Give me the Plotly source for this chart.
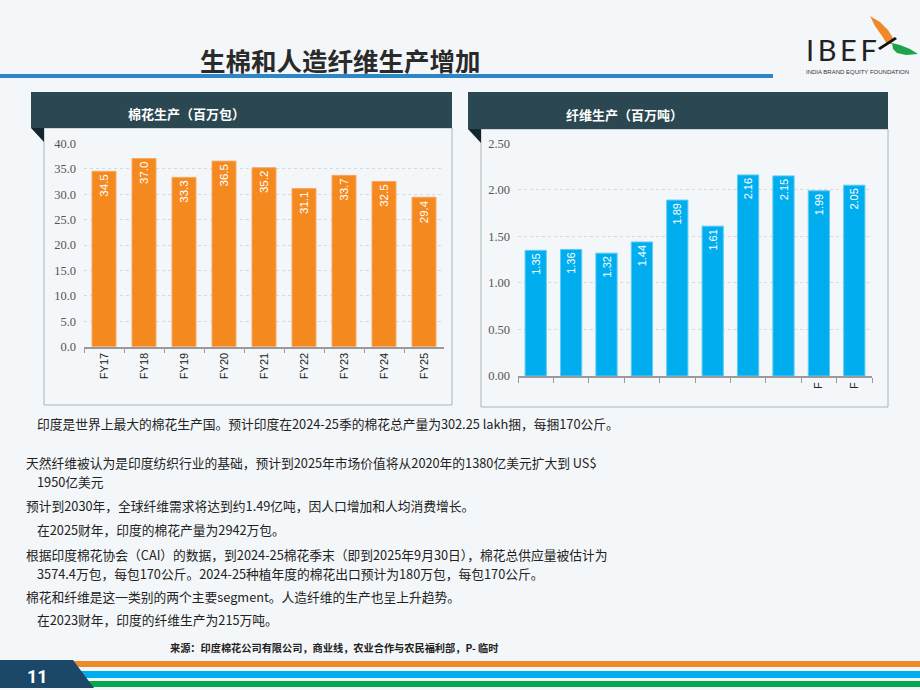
import plotly.graph_objects as go

# ---------------- data ----------------
cotton_years = ["FY17", "FY18", "FY19", "FY20", "FY21", "FY22", "FY23", "FY24", "FY25"]
cotton_values = [34.5, 37.0, 33.3, 36.5, 35.2, 31.1, 33.7, 32.5, 29.4]

fiber_years = ["FY16", "FY17", "FY18", "FY19", "FY20", "FY21", "FY22", "FY23", "FY24F", "FY25F"]
fiber_tick_labels = ["", "", "", "", "", "", "", "", "F", "F"]
fiber_values = [1.35, 1.36, 1.32, 1.44, 1.89, 1.61, 2.16, 2.15, 1.99, 2.05]

title_text = "生棉和人造纤维生产增加"
left_header = "棉花生产（百万包）"
right_header = "纤维生产（百万吨）"

body_lines = [
    (35, 423, "印度是世界上最大的棉花生产国。预计印度在2024-25季的棉花总产量为302.25 lakh捆，每捆170公斤。"),
    (24, 462.5, "天然纤维被认为是印度纺织行业的基础，预计到2025年市场价值将从2020年的1380亿美元扩大到 US$"),
    (35, 481.5, "1950亿美元"),
    (24, 506, "预计到2030年，全球纤维需求将达到约1.49亿吨，因人口增加和人均消费增长。"),
    (35, 529, "在2025财年，印度的棉花产量为2942万包。"),
    (24, 554, "根据印度棉花协会（CAI）的数据，到2024-25棉花季末（即到2025年9月30日），棉花总供应量被估计为"),
    (35, 573, "3574.4万包，每包170公斤。2024-25种植年度的棉花出口预计为180万包，每包170公斤。"),
    (24, 596, "棉花和纤维是这一类别的两个主要segment。人造纤维的生产也呈上升趋势。"),
    (35, 619, "在2023财年，印度的纤维生产为215万吨。"),
]
source_text = "来源：印度棉花公司有限公司，商业线，农业合作与农民福利部，P- 临时"
page_number = "11"

# ---------------- helpers ----------------
W, H = 920, 690
BG = "#F4F7F9"
CJK = "Noto Sans CJK SC"


def px(x):
    return x / W


def py(y):
    return 1 - y / H


def path(points):
    return "M " + " L ".join(f"{px(x):.5f},{py(y):.5f}" for x, y in points) + " Z"


def rect(x0, y0, x1, y1, fill=None, line=None, lw=0):
    return dict(type="rect", xref="paper", yref="paper",
                x0=px(x0), x1=px(x1), y0=py(y1), y1=py(y0),
                fillcolor=fill if fill else "rgba(0,0,0,0)",
                line=dict(color=line if line else "rgba(0,0,0,0)", width=lw),
                layer="below")


def poly(points, fill):
    return dict(type="path", xref="paper", yref="paper", path=path(points),
                fillcolor=fill, line=dict(width=0), layer="below")


def note(x, y, text, size, color, family=CJK, xanchor="left"):
    return dict(x=px(x), y=py(y), xref="paper", yref="paper", text=text,
                showarrow=False, xanchor=xanchor, yanchor="middle", align="left",
                font=dict(family=family, size=size, color=color))


fig = go.Figure()

fig.add_trace(go.Bar(
    x=cotton_years, y=cotton_values, xaxis="x", yaxis="y",
    marker=dict(color="#F4891F", line=dict(width=1, color="#F7A865")),
    text=[f"{v:.1f}" for v in cotton_values],
    textposition="inside", insidetextanchor="end", textangle=-90,
    textfont=dict(family="Liberation Sans", size=11.5, color="white"),
    hoverinfo="skip", showlegend=False,
))

fig.add_trace(go.Bar(
    x=fiber_years, y=fiber_values, xaxis="x2", yaxis="y2",
    marker=dict(color="#00AEEF", line=dict(width=1, color="#5FCBF3")),
    text=[f"{v:.2f}" for v in fiber_values],
    textposition="inside", insidetextanchor="end", textangle=-90,
    textfont=dict(family="Liberation Sans", size=11, color="white"),
    hoverinfo="skip", showlegend=False,
))

xcommon = dict(showline=True, linecolor="#9A9A9A", linewidth=1.5,
               ticks="outside", tickson="boundaries", ticklen=5, tickcolor="#9A9A9A",
               tickangle=-90, tickfont=dict(family="Liberation Sans", size=11, color="#222"),
               showgrid=False, fixedrange=True, automargin=False)
ycommon = dict(showgrid=True, gridcolor="#D6DADD", griddash="dot", gridwidth=1,
               zeroline=False, showline=False, ticks="",
               tickfont=dict(family="Liberation Serif", size=12.5, color="#555"),
               ticklabelstandoff=7, fixedrange=True, automargin=False)

fig.update_layout(
    template="none",
    width=W, height=H, autosize=False,
    margin=dict(l=0, r=0, t=0, b=0, pad=0, autoexpand=False),
    paper_bgcolor=BG, plot_bgcolor="rgba(0,0,0,0)",
    bargap=0.4,
    xaxis=dict(domain=[px(84), px(444)], anchor="y", **xcommon),
    yaxis=dict(domain=[py(346.7), py(143.3)], anchor="x", range=[0, 40],
               tickvals=[0, 5, 10, 15, 20, 25, 30, 35, 40], tickformat=".1f", **ycommon),
    xaxis2=dict(domain=[px(518), px(872)], anchor="y2",
                tickmode="array", tickvals=fiber_years, ticktext=fiber_tick_labels, **xcommon),
    yaxis2=dict(domain=[py(376), py(143.3)], anchor="x2", range=[0, 2.5],
                tickvals=[0, 0.5, 1.0, 1.5, 2.0, 2.5], tickformat=".2f", **ycommon),
)

shapes = []
shapes.append(rect(0, 74, 773, 78, fill="#2E86C8"))
shapes.append(rect(44, 128, 452, 405, line="#A9B4B8", lw=1))
shapes.append(rect(31, 92, 452, 128, fill="#2B4751"))
shapes.append(poly([(31, 128), (44, 128), (44, 142)], "#13262D"))
shapes.append(rect(481, 129, 888, 407, line="#A9B4B8", lw=1))
shapes.append(rect(468, 92, 888, 129, fill="#2B4751"))
shapes.append(poly([(468, 129), (481, 129), (481, 143)], "#13262D"))
shapes.append(rect(60, 661, 920, 667, fill="#F0892A"))
shapes.append(rect(60, 671, 920, 678, fill="#00AEEF"))
shapes.append(rect(60, 681, 920, 687, fill="#00A94F"))
shapes.append(poly([(0, 660), (73, 660), (94, 688), (0, 688)], "#1B4868"))
shapes.append(poly([(870, 16), (880, 22), (888, 30), (893, 38), (892, 44), (887, 44), (882, 36), (875, 26)], "#F0892A"))
shapes.append(poly([(892, 43), (900, 45), (910, 49), (918, 54), (906, 55), (897, 53), (893, 49)], "#1FA34A"))
shapes.append(poly([(878, 48), (895, 37), (897, 39), (880, 50)], "#111111"))
fig.update_layout(shapes=shapes)

ann = []
ann.append(note(340, 60, f"<b>{title_text}</b>", 25.5, "#2A2A2A", xanchor="center"))
ann.append(note(186, 113, f"<b>{left_header}</b>", 13, "white", xanchor="center"))
ann.append(note(624, 115, f"<b>{right_header}</b>", 13, "white", xanchor="center"))
for x, y, t in body_lines:
    ann.append(note(x, y, t, 12.75, "#222"))
ann.append(note(334, 647, f"<b>{source_text}</b>", 10.2, "#222", xanchor="center"))
ann.append(note(37, 676, f"<b>{page_number}</b>", 18, "white", family="Roboto", xanchor="center"))
ann.append(note(804, 50, "I\u2009B\u2009E\u2009F", 29, "#222", family="Lato"))
ann.append(note(804, 72, "INDIA BRAND EQUITY FOUNDATION", 6, "#333", family="Liberation Sans"))
fig.update_layout(annotations=ann)

fig.write_html("out.html")
